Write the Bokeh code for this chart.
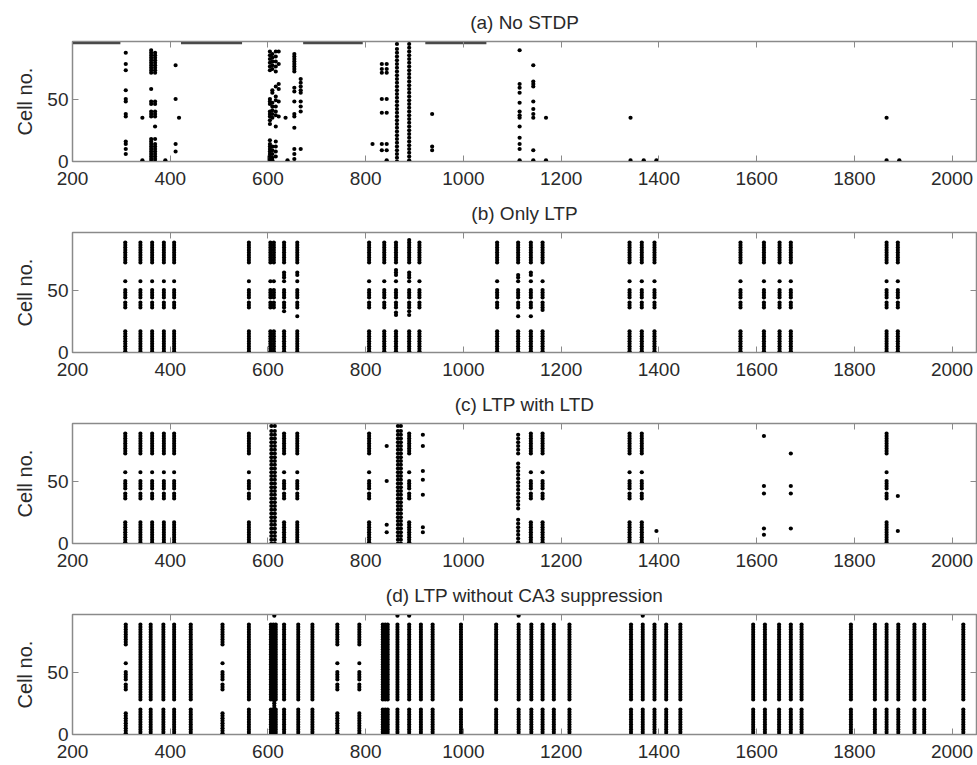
from bokeh.plotting import figure
from bokeh.layouts import column
from bokeh.models import LinearAxis, FixedTicker, Range1d, ColumnDataSource
from bokeh.embed import file_html
from bokeh.resources import INLINE

# ---------------- data ----------------
TITLES = ["(a) No STDP", "(b) Only LTP", "(c) LTP with LTD", "(d) LTP without CA3 suppression"]
X_TICKS = [200, 400, 600, 800, 1000, 1200, 1400, 1600, 1800, 2000]
Y_TICKS = [0, 50]

# cell groups of the stored pattern
CELLS_TOP = [72, 74, 76, 78, 80, 82, 84, 86, 88]
CELLS_MID = [36, 38, 40, 44, 46, 48, 50, 57]
CELLS_LOW = [1, 3, 5, 7, 9, 11, 13, 15, 17]
CELLS_DENSE = [0, 2, 4, 6, 8, 10, 12, 14, 16, 18, 20,
               28, 30, 32, 34, 36, 38, 40, 42, 44, 46, 48, 50, 52, 54, 56, 58,
               60, 62, 64, 66, 68, 70, 72, 74, 76, 78, 80, 82, 84, 86, 88]
CELLS_BURST = [0, 3, 6, 9, 12, 15, 18, 21, 24, 27, 30, 33, 36, 39, 42, 45, 48,
               51, 54, 57, 60, 63, 66, 69, 72, 75, 78, 81, 84, 87, 90, 94]
CELLS_C1112 = [1, 4, 7, 10, 13, 16, 19, 28, 31, 34, 37, 40, 43, 46, 49,
               52, 55, 58, 61, 64, 72, 75, 78, 81, 84, 87]

# (a) No STDP : spike columns (time, cells)
A_COLS = [
    (309, [87, 78, 73, 57, 50, 48, 38, 36, 16, 14, 10, 6]),
    (343, [35, 1]),
    (361, [71, 73, 75, 77, 79, 81, 83, 85, 87, 89, 58, 48, 46, 40, 38, 36,
           0, 2, 4, 6, 8, 10, 12, 14, 16, 18]),
    (369, [71, 73, 75, 77, 79, 81, 83, 85, 87, 48, 46, 40, 38, 36, 28,
           0, 2, 4, 6, 8, 10, 12, 14, 18]),
    (390, [1]),
    (411, [77, 50, 14, 8]),
    (418, [35]),
    (604, [88, 85, 82, 79, 76, 73, 50, 48, 46, 40, 38, 36, 33, 30,
           17, 14, 12, 10, 8, 6, 4, 2, 0]),
    (609, [86, 83, 80, 77, 74, 57, 55, 47, 44, 41, 38, 35, 12, 9, 6, 3, 1]),
    (616, [88, 84, 80, 76, 72, 60, 52, 49, 44, 40, 37, 28, 16, 12, 8, 4]),
    (622, [88, 78, 62, 58, 48, 36]),
    (636, [35]),
    (640, [1]),
    (654, [86, 84, 82, 80, 78, 76, 74, 72, 59, 56, 48, 38, 36, 27, 10, 6, 2]),
    (667, [66, 63, 60, 57, 55, 48, 44, 40, 10]),
    (814, [14]),
    (833, [78, 74, 71, 50, 39, 14, 9]),
    (843, [78, 74, 71, 50, 39, 14, 9, 1]),
    (864, [0, 3, 6, 9, 12, 15, 18, 21, 24, 27, 30, 33, 36, 39, 42, 45, 48,
           51, 54, 57, 60, 63, 66, 69, 72, 75, 78, 81, 84, 87, 90, 94]),
    (889, [1, 4, 7, 10, 13, 16, 19, 22, 25, 28, 31, 34, 37, 40, 43, 46, 49,
           52, 55, 58, 61, 64, 67, 70, 73, 76, 79, 82, 85, 88, 91, 94]),
    (936, [38, 12, 9]),
    (1115, [89, 62, 59, 55, 47, 40, 37, 35, 28, 19, 14, 10, 1]),
    (1143, [77, 64, 62, 60, 48, 42, 38, 35, 9, 1]),
    (1169, [35, 1]),
    (1342, [35, 1]),
    (1369, [1]),
    (1395, [1]),
    (1866, [35, 1]),
    (1892, [1]),
]
# dense background rows along the top of (a)
A_BAR_START = [200, 422, 672, 922]
A_BAR_END = [298, 547, 794, 1047]
A_BAR_CELL = [95.3, 95.3, 95.3, 95.3]

# (b) Only LTP
B_PATTERN_TIMES = [308, 339, 363, 387, 408, 561, 605, 612, 633, 660,
                   807, 838, 862, 889, 910, 1069, 1112, 1138, 1162,
                   1340, 1365, 1391, 1567, 1615, 1647, 1670, 1866, 1889]
B_EXTRA = [
    (633, [60, 62, 64, 33]),
    (660, [62, 64, 29]),
    (862, [62, 64, 66, 30, 32]),
    (889, [60, 62, 64, 30, 33, 90]),
    (1112, [60, 62, 29]),
    (1138, [62, 64, 29]),
    (1162, [34]),
]

# (c) LTP with LTD
C_PATTERN_TIMES = [308, 339, 363, 387, 408, 561, 633, 660, 807, 889,
                   1138, 1162, 1340, 1365, 1866]
C_BURST_TIMES = [607, 614, 866, 872]
C_SPARSE = [
    (843, [78, 50, 15, 9]),
    (917, [87, 78, 58, 51, 39, 13, 9]),
    (1112, CELLS_C1112),
    (1395, [10]),
    (1615, [86, 46, 40, 12, 7]),
    (1670, [72, 46, 40, 12]),
    (1889, [38, 10]),
]

# (d) LTP without CA3 suppression
D_PATTERN_TIMES = [309, 507, 742, 787]
D_DENSE_TIMES = [339, 360, 386, 408, 442, 561, 606, 611, 616, 633, 662, 691,
                 835, 840, 845, 865, 889, 913, 937, 995, 1067, 1113, 1139,
                 1162, 1185, 1217, 1343, 1367, 1391, 1415, 1444, 1593, 1617,
                 1646, 1670, 1692, 1793, 1842, 1866, 1890, 1923, 1943, 2023]
D_EXTRA = [
    (613, [95, 21, 23, 25, 27]),
    (865, [95]),
    (889, [95]),
    (1113, [95]),
    (1367, [95]),
]

PATTERN = CELLS_TOP + CELLS_MID + CELLS_LOW


def spikes(cols):
    xs, ys = [], []
    for t, cells in cols:
        for c in cells:
            xs.append(t)
            ys.append(c)
    return xs, ys


panel_cols = [
    A_COLS,
    [(t, PATTERN) for t in B_PATTERN_TIMES] + B_EXTRA,
    [(t, PATTERN) for t in C_PATTERN_TIMES] + [(t, CELLS_BURST) for t in C_BURST_TIMES] + C_SPARSE,
    [(t, PATTERN) for t in D_PATTERN_TIMES] + [(t, CELLS_DENSE) for t in D_DENSE_TIMES] + D_EXTRA,
]

FONT = "Liberation Sans"
AX_COLOR = "#8a8a8a"
TXT_COLOR = "#2a2a2a"

figs = []
for i, (title, cols) in enumerate(zip(TITLES, panel_cols)):
    p = figure(width=977, height=191, output_backend="svg", toolbar_location=None,
               x_range=Range1d(200, 2050), y_range=Range1d(0, 96),
               min_border_left=72, min_border_right=1, min_border_top=40,
               min_border_bottom=30, background_fill_color="white",
               border_fill_color="white")
    p.title.text = title
    p.title.align = "center"
    p.title.text_font = FONT
    p.title.text_font_size = "19px"
    p.title.text_font_style = "normal"
    p.title.text_color = TXT_COLOR
    p.title.standoff = 18
    p.grid.visible = False
    p.outline_line_color = AX_COLOR
    p.outline_line_width = 1.5

    xs, ys = spikes(cols)
    src = ColumnDataSource(dict(t=xs, cell=ys))
    p.scatter("t", "cell", source=src, size=4.2, color="black", line_width=0)
    if i == 0:
        p.segment(x0=A_BAR_START, y0=A_BAR_CELL, x1=A_BAR_END, y1=A_BAR_CELL,
                  line_width=3.5, line_color="#4a4a4a")

    for ax in p.xaxis:
        ax.ticker = FixedTicker(ticks=X_TICKS)
    for ax in p.yaxis:
        ax.ticker = FixedTicker(ticks=Y_TICKS)
        ax.axis_label = "Cell no."
        ax.axis_label_text_font = FONT
        ax.axis_label_text_font_size = "20px"
        ax.axis_label_text_font_style = "normal"
        ax.axis_label_text_color = TXT_COLOR
        ax.axis_label_standoff = 8
    for ax in list(p.xaxis) + list(p.yaxis):
        ax.major_tick_in = 6
        ax.major_tick_out = 0
        ax.minor_tick_line_color = None
        ax.axis_line_color = AX_COLOR
        ax.major_tick_line_color = AX_COLOR
        ax.major_label_text_font = FONT
        ax.major_label_text_font_size = "19px"
        ax.major_label_text_color = TXT_COLOR
    p.xaxis.major_label_standoff = 10
    p.yaxis.major_label_standoff = 4

    top = LinearAxis(ticker=FixedTicker(ticks=X_TICKS), major_tick_in=6, major_tick_out=0,
                     minor_tick_line_color=None, axis_line_color=AX_COLOR,
                     major_tick_line_color=AX_COLOR, major_label_text_font_size="1px",
                     major_label_text_color=None, major_label_standoff=0)
    right = LinearAxis(ticker=FixedTicker(ticks=Y_TICKS), major_tick_in=6, major_tick_out=0,
                       minor_tick_line_color=None, axis_line_color=AX_COLOR,
                       major_tick_line_color=AX_COLOR, major_label_text_font_size="1px",
                       major_label_text_color=None, major_label_standoff=0)
    p.add_layout(top, "above")
    p.add_layout(right, "right")
    figs.append(p)

layout = column(*figs)
open("out.html", "w").write(file_html(layout, INLINE))
